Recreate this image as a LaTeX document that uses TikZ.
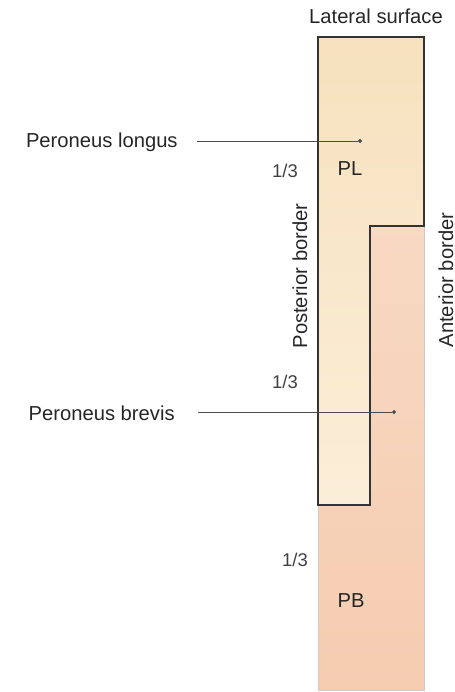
\documentclass[tikz,border=0pt]{standalone}
\usepackage{fontspec}
\setmainfont{Liberation Sans}
\usepackage{tikz}
\usepackage{xcolor}
\usetikzlibrary{arrows.meta, positioning}
\definecolor{plcream}{RGB}{251,238,216}
\definecolor{pltop}{RGB}{247,225,190}
\definecolor{pbtop}{RGB}{249,222,202}
\definecolor{pbbot}{RGB}{245,204,176}
\tikzstyle{lbl} = [font=\fontsize{11.5}{13}\selectfont, text=black!85, inner sep=0pt]
\tikzstyle{frac} = [font=\fontsize{10.5}{12}\selectfont, text=black!75, inner sep=0pt]
\tikzstyle{pointer} = [thin, black!70, -{Circle[length=2.2pt]}]

\begin{document}
\begin{tikzpicture}[x=0.02cm, y=-0.02cm]
        \useasboundingbox (0,0) rectangle (455,692);
        % peroneus brevis, full strip behind
        \fill[top color=pbtop, bottom color=pbbot] (318,37) rectangle (424,690);
        \draw[black!20, thin] (318,505) -- (318,690) -- (424,690) -- (424,226);
        % peroneus longus, L shape
        \fill[top color=pltop, bottom color=plcream] (318,37) -- (424,37) -- (424,226) -- (370,226) -- (370,505) -- (318,505) -- cycle;
        \draw[black!80, semithick] (318,37) -- (424,37) -- (424,226) -- (370,226) -- (370,505) -- (318,505) -- cycle;

        \node[lbl] (surf) at (376,16) {Lateral surface};
        \node[lbl] (pl) at (350,169) {PL};
        \node[lbl] (pb) at (351,601) {PB};
        \node[frac] (thirdA) at (285,171) {1/3};
        \node[frac] (thirdB) at (285,382) {1/3};
        \node[frac] (thirdC) at (295,560) {1/3};
        \node[lbl, rotate=90] (post) at (300,276) {Posterior border};
        \node[lbl, rotate=90] (ant) at (446,280) {Anterior border};

        \node[lbl, anchor=east] (longus) at (178,142) {Peroneus longus};
        \node[lbl, anchor=east] (brevis) at (175,413) {Peroneus brevis};
        \coordinate (longusend) at (362,141);
        \coordinate (brevisend) at (396,412);
        \draw[pointer] (longus.east) ++(19,-1) -- (longusend);
        \draw[pointer] (brevis.east) ++(23,-1) -- (brevisend);
    \end{tikzpicture}
\end{document}
